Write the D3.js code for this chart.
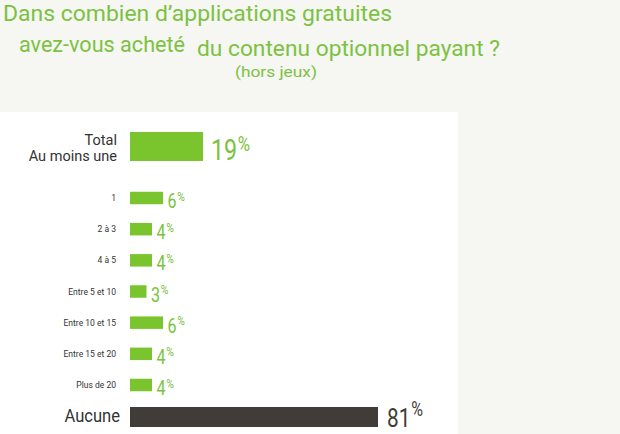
<!DOCTYPE html>
<html>
<head>
<meta charset="utf-8">
<script src="https://cdn.jsdelivr.net/npm/d3@7"></script>
<style>
  body { margin: 0; background: #f6f6f3; }
  svg { display: block; font-family: Roboto, "Open Sans", sans-serif; }
</style>
</head>
<body>
<div id="chart"></div>
<script>
// data
var categories = ["Total|Au moins une", "1", "2 à 3", "4 à 5", "Entre 5 et 10",
                  "Entre 10 et 15", "Entre 15 et 20", "Plus de 20", "Aucune"];
var values = [19, 6, 4, 4, 3, 6, 4, 4, 81];
var kinds = ["total", "small", "small", "small", "small", "small", "small", "small", "none"];

var titleLines = ["Dans combien d’applications gratuites", "avez-vous acheté", "du contenu optionnel payant ?"];
var subtitle = "(hors jeux)";

var width = 620, height = 434;

var svg = d3.select("#chart").append("svg")
    .attr("width", width)
    .attr("height", height);

// background + white panel
svg.append("rect").attr("width", width).attr("height", height).attr("fill", "#f6f6f3");
svg.append("rect").attr("x", 0).attr("y", 112).attr("width", 458).attr("height", height - 112).attr("fill", "#ffffff");

// titles
var green = "#7cc242";
svg.append("text").attr("x", 3).attr("y", 21)
    .attr("font-size", 22.5).attr("fill", green)
    .attr("textLength", 389).attr("lengthAdjust", "spacingAndGlyphs")
    .text(titleLines[0]);
svg.append("text").attr("x", 19).attr("y", 51.5)
    .attr("font-size", 22.5).attr("fill", green)
    .attr("textLength", 166).attr("lengthAdjust", "spacingAndGlyphs")
    .text(titleLines[1]);
svg.append("text").attr("x", 197).attr("y", 55.5)
    .attr("font-size", 22.5).attr("fill", green)
    .attr("textLength", 303).attr("lengthAdjust", "spacingAndGlyphs")
    .text(titleLines[2]);
svg.append("text").attr("x", 235).attr("y", 77)
    .attr("font-size", 15).attr("fill", green)
    .attr("textLength", 82).attr("lengthAdjust", "spacingAndGlyphs")
    .text(subtitle);

// the original isn't drawn to one scale, so the scale is piecewise
var x = d3.scaleLinear().domain([0, 6, 19, 81]).range([130, 163, 203, 378]);
var y = d3.scaleLinear().domain([0, 1, 7, 8]).range([146.5, 198, 385, 417]);

var barH = { total: 29, small: 12.5, none: 20 };
var barFill = { total: "#7ac52e", small: "#7ac52e", none: "#403c37" };

var rows = svg.append("g").selectAll("g")
    .data(values)
    .join("g")
    .attr("transform", function(d, i) { return "translate(0," + y(i) + ")"; });

rows.append("rect")
    .attr("x", x(0))
    .attr("y", function(d, i) { return -barH[kinds[i]] / 2; })
    .attr("width", function(d) { return x(d) - x(0); })
    .attr("height", function(d, i) { return barH[kinds[i]]; })
    .attr("fill", function(d, i) { return barFill[kinds[i]]; });

// category labels
rows.each(function(d, i) {
    var g = d3.select(this);
    var k = kinds[i];
    var lab = categories[i].split("|");
    var t = g.append("text")
        .attr("text-anchor", "end")
        .attr("fill", "#333333");
    if (k === "total") {
        t.attr("font-size", 14.5).attr("transform", "translate(117,0)");
        t.append("tspan").attr("x", 0).attr("y", -1.5).text(lab[0]);
        t.append("tspan").attr("x", 0).attr("y", 14.5).text(lab[1]);
    } else if (k === "none") {
        t.attr("font-size", 18).attr("transform", "translate(120,4.5) scale(0.92,1)").text(lab[0]);
    } else {
        t.attr("font-size", 9.5).attr("transform", "translate(116,3) scale(0.9,1)").text(lab[0]);
    }

    // value label with superscript %  [size, baseline, % size, % baseline, gap]
    var vs = { total: [29, 13, 21, 4, 8], small: [20, 10, 13, 2.5, 4.5], none: [26, 9.5, 20, -1.5, 9] }[k];
    var vt = g.append("text")
        .attr("transform", "translate(" + (x(d) + vs[4]) + "," + vs[1] + ") scale(0.8,1)")
        .attr("fill", k === "none" ? "#403c37" : "#78c33a")
        .attr("font-size", vs[0]);
    vt.append("tspan").text(d);
    vt.append("tspan")
        .attr("font-size", vs[2])
        .attr("dx", 1)
        .attr("dy", vs[3] - vs[1])
        .text("%");
});
</script>
</body>
</html>
